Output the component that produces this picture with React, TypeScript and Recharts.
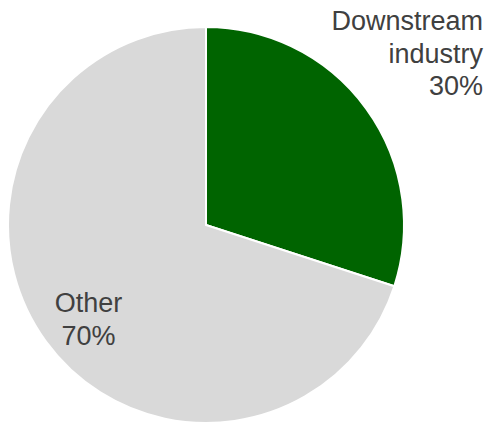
import React from "react";
import { PieChart, Pie, Cell } from "recharts";

const categories = ["Downstream industry", "Other"];
const shares = [30, 70];
const colors = ["#006400", "#D9D9D9"];

const data = categories.map((name, i) => ({ name, value: shares[i] }));

// label placement relative to pie centre, per slice (first baseline)
const labelSpots = [
  { dx: 277, dy: -195, anchor: "end", lines: ["Downstream", "industry", "30%"] },
  { dx: -117.5, dy: 87, anchor: "middle", lines: ["Other", "70%"] },
];

const renderLabel = (props: any) => {
  const { cx, cy, index } = props;
  const spot = labelSpots[index];
  return (
    <text
      x={cx + spot.dx}
      y={cy + spot.dy}
      textAnchor={spot.anchor}
      fill="#404040"
      fontSize={27}
      fontFamily="'Liberation Sans', Arial, sans-serif"
    >
      {spot.lines.map((line, i) => (
        <tspan key={i} x={cx + spot.dx} dy={i === 0 ? 0 : 32.5}>
          {line}
        </tspan>
      ))}
    </text>
  );
};

export default function App() {
  return (
    <div style={{ position: "fixed", left: 0, top: 0, width: 486, height: 423, background: "#fff" }}>
      <PieChart width={486} height={423} margin={{ top: 0, right: 0, bottom: 0, left: 0 }}>
        <Pie
          data={data}
          dataKey="value"
          nameKey="name"
          cx={206}
          cy={225}
          outerRadius={198}
          startAngle={90}
          endAngle={-270}
          stroke="#FFFFFF"
          strokeWidth={2}
          label={renderLabel}
          labelLine={false}
          isAnimationActive={false}
        >
          {data.map((_, i) => (
            <Cell key={`cell-${i}`} fill={colors[i]} />
          ))}
        </Pie>
      </PieChart>
    </div>
  );
}
